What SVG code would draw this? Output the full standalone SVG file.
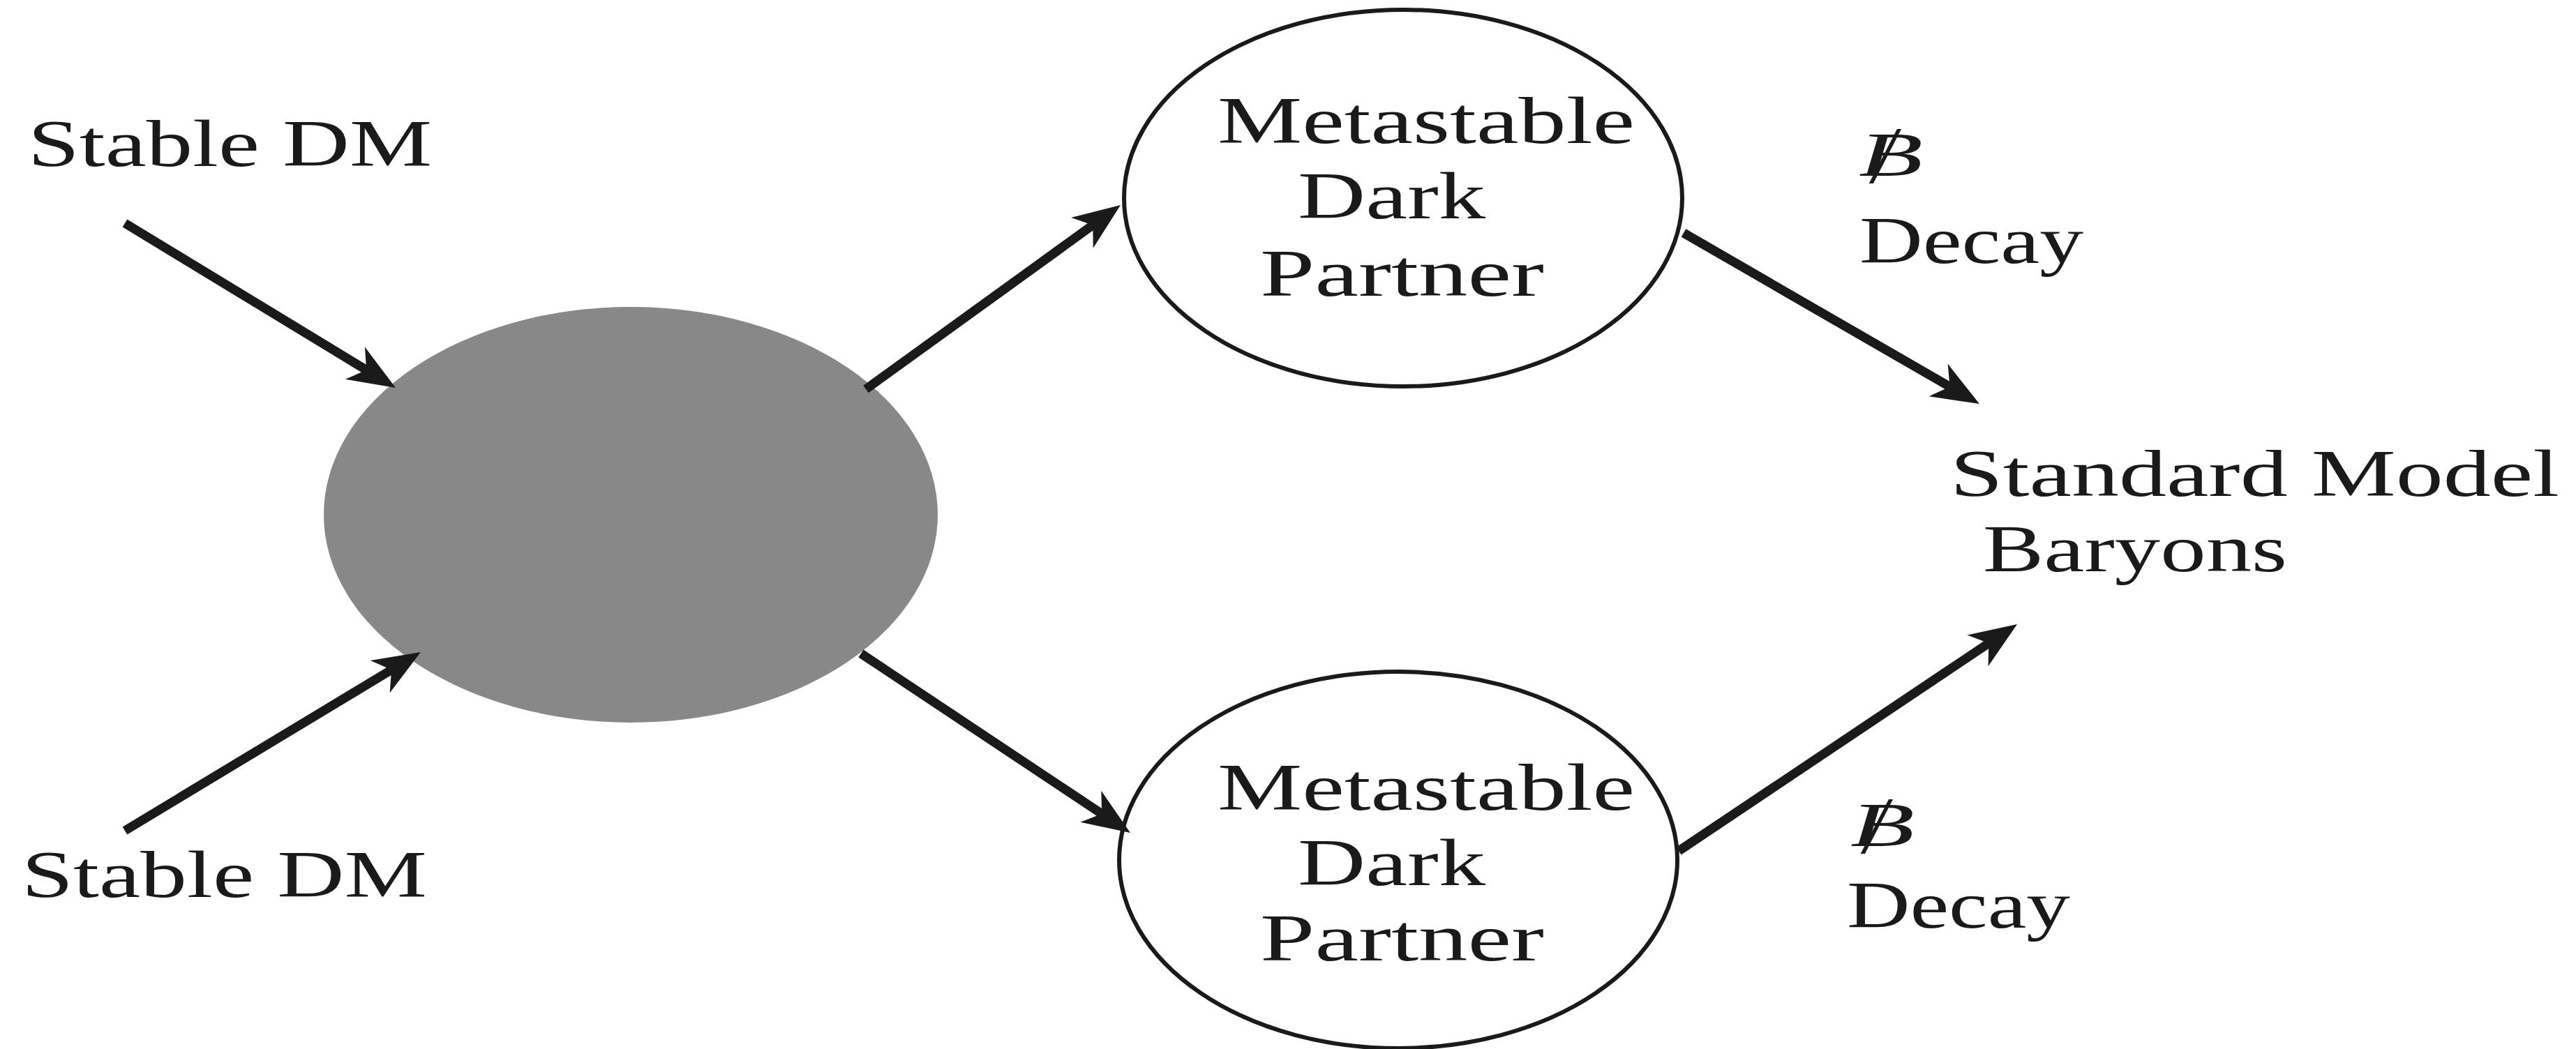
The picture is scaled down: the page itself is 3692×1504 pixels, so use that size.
<svg xmlns="http://www.w3.org/2000/svg" width="3692" height="1504" viewBox="0 0 3692 1504">
  <style>
    .lbl { font-family: "Liberation Serif", "DejaVu Serif", serif; font-size: 96px; fill: #1a1a1a; }
    .sym { font-family: "Liberation Serif", "DejaVu Serif", serif; font-style: italic; fill: #1a1a1a; }
    .edge { stroke: #1a1a1a; stroke-width: 13; fill: none; marker-end: url(#head); }
    .partner { fill: #ffffff; stroke: #1a1a1a; stroke-width: 6; }
    .blob { fill: #888888; }
  </style>
  <defs>
    <!-- barbed arrowhead; tip sits 30 units beyond the line end -->
    <marker id="head" markerUnits="userSpaceOnUse" viewBox="-40 -30 80 60" markerWidth="80" markerHeight="60" refX="0" refY="0" orient="auto" overflow="visible">
      <path d="M30,0 L-38,-27 L-19,0 L-38,27 Z" fill="#1a1a1a"/>
    </marker>
  </defs>
  <rect width="3692" height="1504" fill="#ffffff"/>

  <g id="annihilation">
    <ellipse class="blob" cx="904" cy="738" rx="440" ry="298"/>
  </g>

  <g id="partner-top">
    <ellipse class="partner" cx="2011" cy="284" rx="400" ry="270"/>
    <text class="lbl" x="1745" y="205" textLength="598" lengthAdjust="spacingAndGlyphs">Metastable</text>
    <text class="lbl" x="1860" y="313" textLength="269" lengthAdjust="spacingAndGlyphs">Dark</text>
    <text class="lbl" x="1806" y="424" textLength="407" lengthAdjust="spacingAndGlyphs">Partner</text>
  </g>

  <g id="partner-bottom">
    <ellipse class="partner" cx="2004" cy="1233" rx="400" ry="270"/>
    <text class="lbl" x="1745" y="1161" textLength="598" lengthAdjust="spacingAndGlyphs">Metastable</text>
    <text class="lbl" x="1860" y="1269" textLength="269" lengthAdjust="spacingAndGlyphs">Dark</text>
    <text class="lbl" x="1806" y="1377" textLength="407" lengthAdjust="spacingAndGlyphs">Partner</text>
  </g>

  <g id="dm-top">
    <text class="lbl" x="40" y="238" textLength="579" lengthAdjust="spacingAndGlyphs">Stable DM</text>
  </g>

  <g id="dm-bottom">
    <text class="lbl" x="31" y="1286" textLength="581" lengthAdjust="spacingAndGlyphs">Stable DM</text>
  </g>

  <g id="sm-baryons">
    <text class="lbl" x="2795" y="711" textLength="873" lengthAdjust="spacingAndGlyphs">Standard Model</text>
    <text class="lbl" x="2842" y="819" textLength="436" lengthAdjust="spacingAndGlyphs">Baryons</text>
  </g>

  <!-- baryon-number-violating label: italic B with a negation slash -->
  <g id="decay-top">
    <text class="sym" y="251"><tspan x="2664" font-size="88" textLength="92" lengthAdjust="spacingAndGlyphs">B</tspan><tspan x="2684" y="262" font-size="116">/</tspan></text>
    <text class="lbl" x="2665" y="377" textLength="321" lengthAdjust="spacingAndGlyphs">Decay</text>
  </g>

  <g id="decay-bottom">
    <text class="sym" y="1212"><tspan x="2652" font-size="88" textLength="92" lengthAdjust="spacingAndGlyphs">B</tspan><tspan x="2672" y="1223" font-size="116">/</tspan></text>
    <text class="lbl" x="2647" y="1330" textLength="320" lengthAdjust="spacingAndGlyphs">Decay</text>
  </g>

  <g id="connectors">
    <path class="edge" d="M179,320 L541.4,540.4"/>
    <path class="edge" d="M179,1191 L577.3,950.5"/>
    <path class="edge" d="M1241,558 L1581.7,311.6"/>
    <path class="edge" d="M2413,334 L2811,564"/>
    <path class="edge" d="M1234,937 L1595,1177.4"/>
    <path class="edge" d="M2406,1220 L2866.1,911.7"/>
  </g>
</svg>
